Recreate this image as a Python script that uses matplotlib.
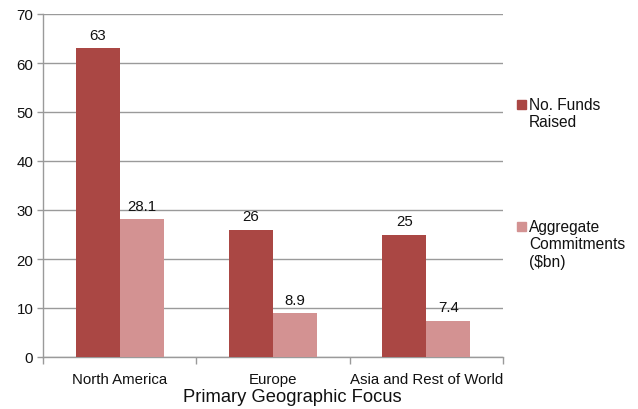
import matplotlib
matplotlib.use("Agg")
import matplotlib.pyplot as plt
import numpy as np
from matplotlib.patches import Rectangle

plt.rcParams['font.family'] = ['Liberation Sans', 'DejaVu Sans']

regions = ["North America", "Europe", "Asia and Rest of World"]
funds_raised = [63, 26, 25]
commitments = [28.1, 8.9, 7.4]
series_names = ["No. Funds\nRaised", "Aggregate\nCommitments\n($bn)"]
y_ticks = [0, 10, 20, 30, 40, 50, 60, 70]

dark = "#AA4744"
light = "#D39292"
grid_c = "#9A9A9A"
txt_c = "#111111"

fig = plt.figure(figsize=(6.38, 4.10), dpi=100)
ax = fig.add_axes([43 / 638, 1 - 358 / 410, (503 - 43) / 638, (358 - 15) / 410])

x = np.arange(len(regions))
w = 0.288
b1 = ax.bar(x - w / 2, funds_raised, w, color=dark, zorder=3)
b2 = ax.bar(x + w / 2, commitments, w, color=light, zorder=3)

for bars, vals in ((b1, funds_raised), (b2, commitments)):
    for rect, v in zip(bars, vals):
        ax.text(rect.get_x() + rect.get_width() / 2, v + 1.3, f"{v:g}",
                ha="center", va="bottom", fontsize=10.8, color=txt_c)

ax.set_xlim(-0.5, len(regions) - 0.5)
ax.set_ylim(0, 70)
ax.set_yticks(y_ticks)
ax.yaxis.grid(True, color=grid_c, linewidth=1, zorder=0)
ax.set_axisbelow(True)

for s in ["top", "right"]:
    ax.spines[s].set_visible(False)
for s in ["left", "bottom"]:
    ax.spines[s].set_color(grid_c)
    ax.spines[s].set_linewidth(1)

ax.tick_params(axis="y", length=4, width=1, color=grid_c, labelsize=10.8,
               labelcolor=txt_c, pad=3)
# category labels centred, boundary ticks between groups
ax.set_xticks(x)
ax.set_xticklabels(regions, fontsize=10.8, color=txt_c)
ax.tick_params(axis="x", length=0, pad=11)
ax.set_xticks(np.arange(len(regions) + 1) - 0.5, minor=True)
ax.tick_params(axis="x", which="minor", length=5, width=1, color=grid_c)

ax.set_xlabel("Primary Geographic Focus", fontsize=13.2, color=txt_c)
ax.xaxis.set_label_coords(0.542, -0.114)
ax.xaxis.label.set_verticalalignment("center")

# legend drawn on the right of the plot area
legend_items = [(series_names[0], dark, 101), (series_names[1], light, 223)]
for label, col, ytop in legend_items:
    fig.patches.append(Rectangle((517 / 638, 1 - (ytop + 8.5) / 410), 9 / 638, 8.5 / 410,
                                 transform=fig.transFigure, color=col, figure=fig))
    fig.text(529 / 638, 1 - (ytop - 3) / 410, label, ha="left", va="top",
             fontsize=11.2, color=txt_c, linespacing=1.2)

fig.savefig("out.png", dpi=100)
